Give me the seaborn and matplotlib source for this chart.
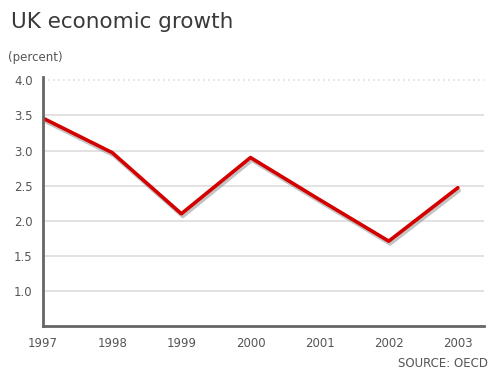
import matplotlib
matplotlib.use("Agg")
import matplotlib.pyplot as plt
import matplotlib.patheffects as pe
import seaborn as sns
import pandas as pd

years = [1997, 1998, 1999, 2000, 2001, 2002, 2003]
growth = [3.46, 2.97, 2.10, 2.90, 2.30, 1.71, 2.47]
yticks = [1.0, 1.5, 2.0, 2.5, 3.0, 3.5, 4.0]

df = pd.DataFrame({"year": years, "growth": growth})

sns.set_style("white")
plt.rcParams['font.family'] = ['DejaVu Sans']

fig = plt.figure(figsize=(4.9, 3.71), dpi=100)
ax = fig.add_axes([0.088, 0.121, 0.900, 0.672])

sns.lineplot(data=df, x="year", y="growth", ax=ax, color="#d40000", linewidth=2.6,
             path_effects=[pe.SimpleLineShadow(offset=(1, -2), shadow_color="#888888", alpha=0.5),
                           pe.Normal()])

ax.set_xlim(1997, 2003.38)
ax.set_ylim(0.5, 4.05)
ax.set_xticks(years)
ax.set_xticklabels([str(y) for y in years])
ax.set_yticks(yticks)
ax.set_yticklabels([f"{v:.1f}" for v in yticks])
ax.set_xlabel("")
ax.set_ylabel("")

for v in yticks:
    ax.axhline(v, color="#dddddd", linewidth=1.2, zorder=0,
               linestyle=(0, (1, 2)) if v == 4.0 else "-")

for s in ["top", "right"]:
    ax.spines[s].set_visible(False)
for s in ["left", "bottom"]:
    ax.spines[s].set_color("#666666")
    ax.spines[s].set_linewidth(2)

ax.tick_params(axis="both", colors="#666666", labelcolor="#555555", labelsize=8.5,
               length=4, width=1, direction="out")

fig.text(0.022, 0.94, "UK economic growth", fontsize=15.5, color="#3a3a3a", va="center")
fig.text(0.016, 0.845, "(percent)", fontsize=8.5, color="#555555", va="center")
fig.text(0.995, 0.02, "SOURCE: OECD", fontsize=8.5, color="#555555", ha="right", va="center")

fig.savefig("out.png", dpi=100)
